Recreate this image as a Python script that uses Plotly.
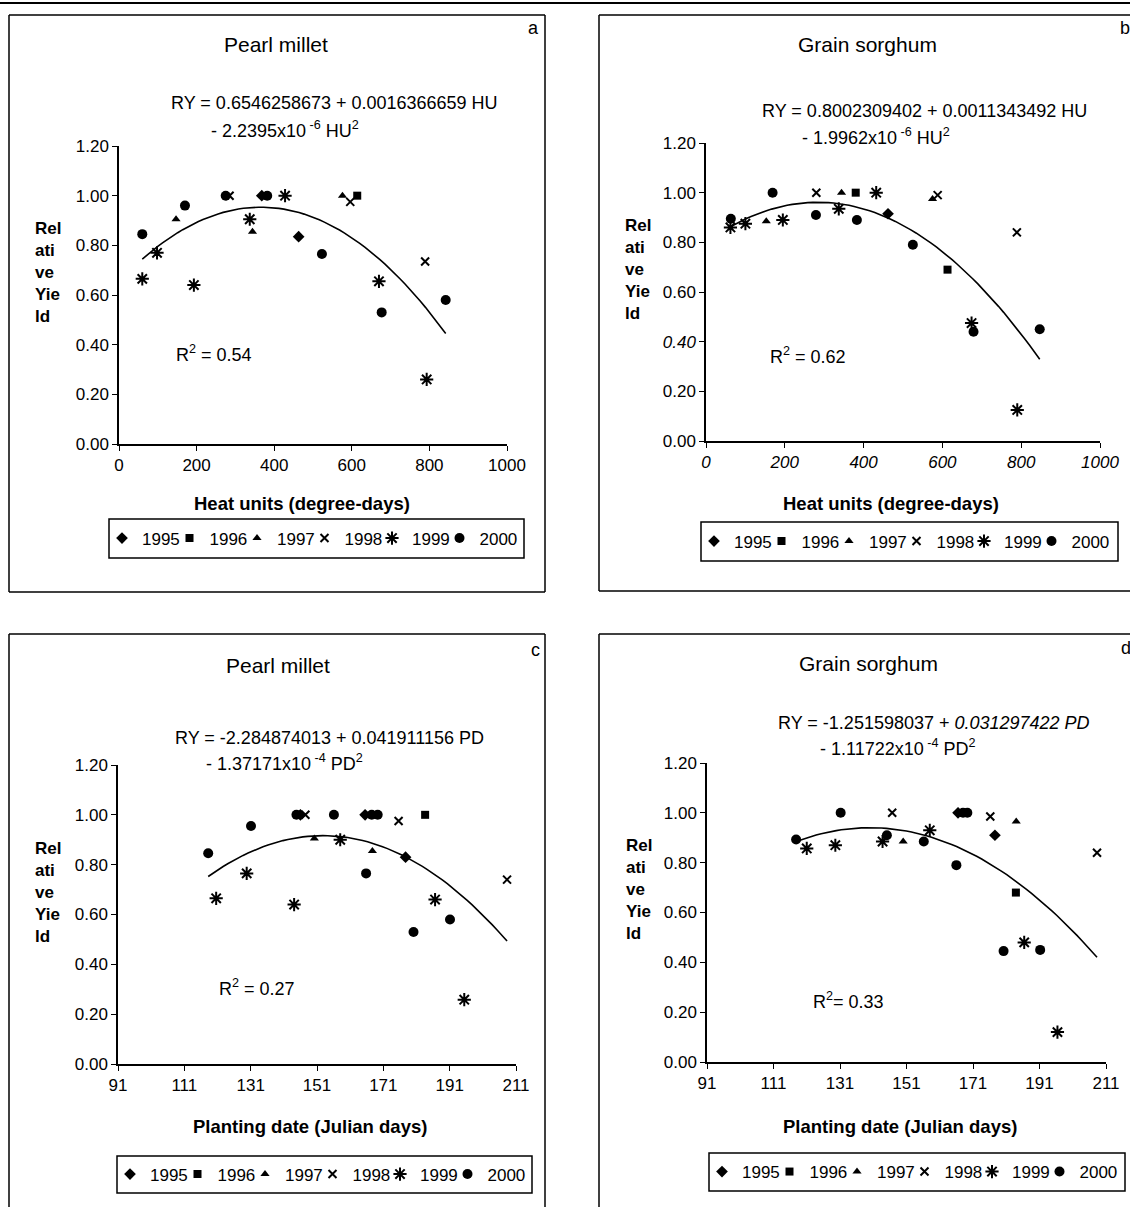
import plotly.graph_objects as go

W, H = 1130, 1207
FONT = "Liberation Sans, Arial, sans-serif"

YEARS = ["1995", "1996", "1997", "1998", "1999", "2000"]
SYMBOLS = ["diamond", "square", "triangle-up", "x-thin-open", "asterisk-open", "circle"]
SIZES = [9, 8, 8, 8, 11, 10]

# ---------------- Panel a: Pearl millet vs heat units ----------------
A_X_1995 = [368, 463]
A_Y_1995 = [1.00, 0.835]
A_X_1996 = [614]
A_Y_1996 = [1.00]
A_X_1997 = [147, 344, 576]
A_Y_1997 = [0.905, 0.855, 1.00]
A_X_1998 = [285, 596, 789]
A_Y_1998 = [1.00, 0.975, 0.735]
A_X_1999 = [60, 98, 193, 337, 428, 670, 793]
A_Y_1999 = [0.665, 0.77, 0.64, 0.905, 1.00, 0.655, 0.26]
A_X_2000 = [60, 170, 275, 382, 523, 677, 842]
A_Y_2000 = [0.845, 0.96, 1.00, 1.00, 0.765, 0.53, 0.58]
A_COEF = [0.6546258673, 0.0016366659, -2.2395e-6]

# ---------------- Panel b: Grain sorghum vs heat units ----------------
B_X_1995 = [462]
B_Y_1995 = [0.915]
B_X_1996 = [380, 613]
B_Y_1996 = [1.00, 0.69]
B_X_1997 = [153, 344, 575]
B_Y_1997 = [0.885, 1.00, 0.975]
B_X_1998 = [280, 588, 789]
B_Y_1998 = [1.00, 0.99, 0.84]
B_X_1999 = [62, 100, 195, 337, 432, 674, 790]
B_Y_1999 = [0.86, 0.875, 0.89, 0.935, 1.00, 0.475, 0.125]
B_X_2000 = [63, 169, 279, 383, 525, 679, 847]
B_Y_2000 = [0.895, 1.00, 0.91, 0.89, 0.79, 0.44, 0.45]
B_COEF = [0.8002309402, 0.0011343492, -1.9962e-6]

# ---------------- Panel c: Pearl millet vs planting date ----------------
C_X_1995 = [146, 165.5, 177.7]
C_Y_1995 = [1.00, 1.00, 0.83]
C_X_1996 = [183.6]
C_Y_1996 = [1.00]
C_X_1997 = [150.2, 167.7]
C_Y_1997 = [0.905, 0.855]
C_X_1998 = [147.5, 175.6, 208.3]
C_Y_1998 = [1.00, 0.975, 0.74]
C_X_1999 = [120.6, 129.8, 144.1, 158, 186.6, 195.4]
C_Y_1999 = [0.665, 0.765, 0.64, 0.90, 0.66, 0.258]
C_X_2000 = [118.2, 131.1, 144.8, 156.1, 165.8, 167.5, 169.3, 180.1, 191.1]
C_Y_2000 = [0.846, 0.955, 1.00, 1.00, 0.765, 1.00, 1.00, 0.53, 0.58]
C_COEF = [-2.284874013, 0.041911156, -1.37171e-4]

# ---------------- Panel d: Grain sorghum vs planting date ----------------
D_X_1995 = [166.5, 177.6]
D_Y_1995 = [1.00, 0.91]
D_X_1996 = [183.9]
D_Y_1996 = [0.68]
D_X_1997 = [150, 184]
D_Y_1997 = [0.885, 0.965]
D_X_1998 = [146.7, 176.2, 208.3]
D_Y_1998 = [1.00, 0.985, 0.84]
D_X_1999 = [121, 129.6, 143.8, 158, 186.4, 196.4]
D_Y_1999 = [0.857, 0.87, 0.885, 0.93, 0.48, 0.12]
D_X_2000 = [117.8, 131.2, 145.1, 156.2, 166, 168, 169.3, 180.2, 191.2]
D_Y_2000 = [0.893, 1.00, 0.91, 0.885, 0.79, 1.00, 1.00, 0.445, 0.45]
D_COEF = [-1.251598037, 0.031297422, -1.11722e-4]

Y_TICKS = [0.0, 0.2, 0.4, 0.6, 0.8, 1.0, 1.2]
Y_TICKTEXT = ["0.00", "0.20", "0.40", "0.60", "0.80", "1.00", "1.20"]
HU_TICKS = [0, 200, 400, 600, 800, 1000]
PD_TICKS = [91, 111, 131, 151, 171, 191, 211]


def px(x):
    return x / W


def py(y):
    return 1 - y / H


panels = [
    dict(xs=[A_X_1995, A_X_1996, A_X_1997, A_X_1998, A_X_1999, A_X_2000],
         ys=[A_Y_1995, A_Y_1996, A_Y_1997, A_Y_1998, A_Y_1999, A_Y_2000], coef=A_COEF,
         xdom=(119, 507), ydom=(146, 444), xr=[0, 1000], xt=HU_TICKS, italic=False),
    dict(xs=[B_X_1995, B_X_1996, B_X_1997, B_X_1998, B_X_1999, B_X_2000],
         ys=[B_Y_1995, B_Y_1996, B_Y_1997, B_Y_1998, B_Y_1999, B_Y_2000], coef=B_COEF,
         xdom=(706, 1100), ydom=(143, 441), xr=[0, 1000], xt=HU_TICKS, italic=True),
    dict(xs=[C_X_1995, C_X_1996, C_X_1997, C_X_1998, C_X_1999, C_X_2000],
         ys=[C_Y_1995, C_Y_1996, C_Y_1997, C_Y_1998, C_Y_1999, C_Y_2000], coef=C_COEF,
         xdom=(118, 516), ydom=(765, 1064), xr=[91, 211], xt=PD_TICKS, italic=False),
    dict(xs=[D_X_1995, D_X_1996, D_X_1997, D_X_1998, D_X_1999, D_X_2000],
         ys=[D_Y_1995, D_Y_1996, D_Y_1997, D_Y_1998, D_Y_1999, D_Y_2000], coef=D_COEF,
         xdom=(707, 1106), ydom=(763, 1062), xr=[91, 211], xt=PD_TICKS, italic=False),
]

fig = go.Figure()
layout = dict(
    width=W, height=H, margin=dict(l=0, r=0, t=0, b=0, pad=0, autoexpand=False),
    paper_bgcolor="white", plot_bgcolor="white",
    font=dict(family=FONT, size=17, color="black"),
    showlegend=True,
)

for i, p in enumerate(panels):
    n = "" if i == 0 else str(i + 1)
    xa, ya = "x" + n, "y" + n
    leg = "legend" + n
    for k in range(6):
        is_line = SYMBOLS[k].endswith("-open")
        fig.add_trace(go.Scatter(
            x=p["xs"][k], y=p["ys"][k], mode="markers", name=YEARS[k],
            xaxis=xa, yaxis=ya, legend=leg,
            legendwidth=40 if k == 5 else None,
            marker=dict(symbol=SYMBOLS[k], size=SIZES[k], color="black",
                        line=dict(color="black", width=2 if is_line else 0)),
        ))
    # trend line from the printed regression equation
    allx = [v for s in p["xs"] for v in s]
    x0, x1 = min(allx), max(allx)
    steps = 60
    cx = [x0 + (x1 - x0) * j / steps for j in range(steps + 1)]
    c0, c1, c2 = p["coef"]
    cy = [c0 + c1 * v + c2 * v * v for v in cx]
    fig.add_trace(go.Scatter(x=cx, y=cy, mode="lines", xaxis=xa, yaxis=ya,
                             line=dict(color="black", width=1.6), showlegend=False,
                             hoverinfo="skip"))

    ticktext = [("<i>%s</i>" % t) if p["italic"] else str(t) for t in p["xt"]]
    yticktext = [("<i>%s</i>" % t) if (p["italic"] and t == "0.40") else t for t in Y_TICKTEXT]
    layout["xaxis" + n] = dict(
        domain=[px(p["xdom"][0]), px(p["xdom"][1])], anchor=ya, range=p["xr"],
        tickvals=p["xt"], ticktext=ticktext, showgrid=False, zeroline=False,
        showline=True, linecolor="black", linewidth=1.5, ticks="outside",
        ticklen=5, tickcolor="black", tickfont=dict(size=17, color="black"),
        automargin=False,
    )
    layout["yaxis" + n] = dict(
        domain=[py(p["ydom"][1]), py(p["ydom"][0])], anchor=xa, range=[0, 1.2],
        tickvals=Y_TICKS, ticktext=yticktext, showgrid=False, zeroline=False,
        showline=True, linecolor="black", linewidth=1.5, ticks="outside",
        ticklen=5, tickcolor="black", tickfont=dict(size=17, color="black"),
        automargin=False,
    )

# legends (boxes drawn as shapes)
legend_boxes = [(109, 519, 524, 558), (701, 522, 1118, 561), (117, 1156, 532, 1193), (709, 1153, 1125, 1191)]
for i, (l, t, r, b) in enumerate(legend_boxes):
    n = "" if i == 0 else str(i + 1)
    layout["legend" + n] = dict(
        orientation="h", xref="container", yref="container",
        x=px(l - 7), xanchor="left", y=py((t + b) / 2), yanchor="middle",
        bgcolor="rgba(0,0,0,0)", borderwidth=0, font=dict(size=17, color="black"),
        entrywidth=22.5, entrywidthmode="pixels", itemwidth=30,
    )

shapes = []


def seg(x0, y0, x1, y1, w=1.5):
    shapes.append(dict(type="line", xref="paper", yref="paper", x0=px(x0), x1=px(x1),
                       y0=py(y0), y1=py(y1), line=dict(color="black", width=w)))


# page rule at top
seg(0, 3, W, 3, 2)
# panel a frame
seg(9, 15, 545, 15); seg(9, 592, 545, 592); seg(9, 15, 9, 592); seg(545, 15, 545, 592)
# panel b frame (right side cut by image edge)
seg(599, 15, W, 15); seg(599, 591, W, 591); seg(599, 15, 599, 591)
# panel c frame (bottom cut)
seg(9, 634, 545, 634); seg(9, 634, 9, H); seg(545, 634, 545, H)
# panel d frame (right and bottom cut)
seg(599, 634, W, 634); seg(599, 634, 599, H)
for (l, t, r, b) in legend_boxes:
    shapes.append(dict(type="rect", xref="paper", yref="paper", x0=px(l), x1=px(r), y0=py(b), y1=py(t),
                       line=dict(color="black", width=1.5)))
layout["shapes"] = shapes

ann = []


def text(x, y, s, size=18, bold=False, xanchor="center", align="center"):
    if bold:
        s = "<b>%s</b>" % s
    ann.append(dict(x=px(x), y=py(y), xref="paper", yref="paper", text=s, showarrow=False,
                    xanchor=xanchor, yanchor="middle", align=align,
                    font=dict(family=FONT, size=size, color="black")))


YTITLE = "Rel<br>ati<br>ve<br>Yie<br>ld"
# panel a
text(276, 44, "Pearl millet", size=21)
text(533, 28, "a", size=18)
text(334, 103, "RY = 0.6546258673 + 0.0016366659 HU")
text(285, 129, "- 2.2395x10<sup> -6</sup> HU<sup>2</sup>")
text(214, 353, "R<sup>2</sup> = 0.54")
text(33, 272, YTITLE, size=17, bold=True, xanchor="left", align="left")
text(302, 503, "Heat units (degree-days)", size=18.5, bold=True)
# panel b
text(867, 44, "Grain sorghum", size=21)
text(1125, 28, "b", size=18)
text(924, 111, "RY = 0.8002309402 + 0.0011343492 HU")
text(876, 137, "- 1.9962x10<sup> -6</sup> HU<sup>2</sup>")
text(808, 356, "R<sup>2</sup> = 0.62")
text(623, 270, YTITLE, size=17, bold=True, xanchor="left", align="left")
text(891, 503, "Heat units (degree-days)", size=18.5, bold=True)
# panel c
text(278, 665, "Pearl millet", size=21)
text(535, 650, "c", size=18)
text(329, 738, "RY = -2.284874013 + 0.041911156 PD")
text(284, 763, "- 1.37171x10<sup> -4</sup> PD<sup>2</sup>")
text(257, 987, "R<sup>2</sup> = 0.27")
text(33, 892, YTITLE, size=17, bold=True, xanchor="left", align="left")
text(310, 1126, "Planting date (Julian days)", size=18.5, bold=True)
# panel d
text(868, 663, "Grain sorghum", size=21)
text(1126, 648, "d", size=18)
text(934, 723, "RY = -1.251598037 + <i>0.031297422 PD</i>")
text(898, 748, "- 1.11722x10<sup> -4</sup> PD<sup>2</sup>")
text(848, 1000, "R<sup>2</sup>= 0.33")
text(624, 889, YTITLE, size=17, bold=True, xanchor="left", align="left")
text(900, 1126, "Planting date (Julian days)", size=18.5, bold=True)
layout["annotations"] = ann

fig.update_layout(**layout)
fig.write_html(
    "out.html",
    config={"displayModeBar": False},
    post_script=(
        "document.body.style.margin='0';"
        "document.body.style.padding='0';"
        "document.body.style.overflow='hidden';"
        "document.documentElement.style.overflow='hidden';"
    ),
)
